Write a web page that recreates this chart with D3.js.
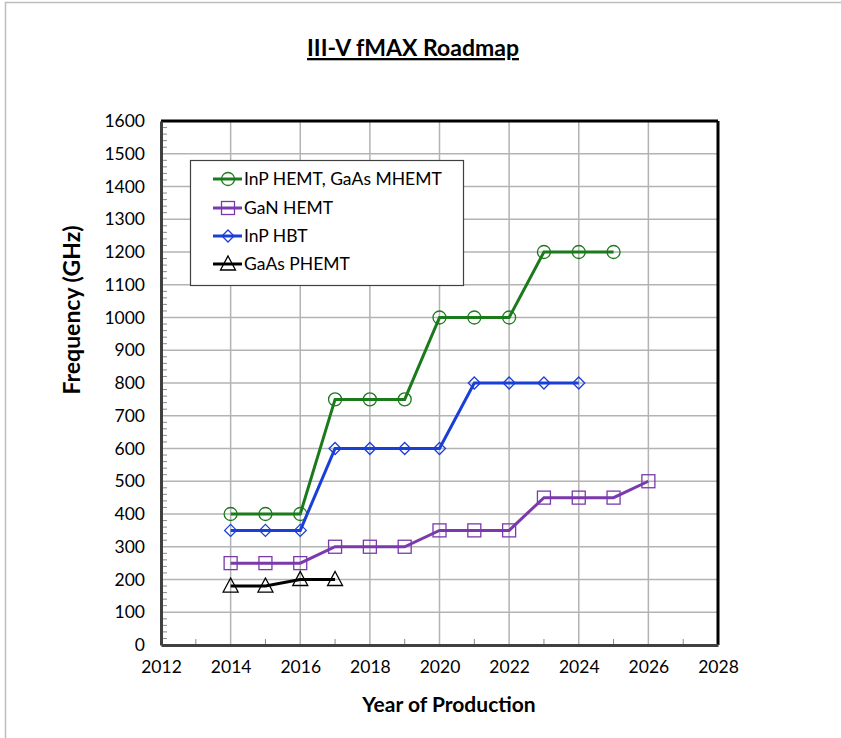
<!DOCTYPE html>
<html>
<head>
<meta charset="utf-8">
<script src="https://cdn.jsdelivr.net/npm/d3@7"></script>
<style>
  body { margin: 0; background: #fff; }
  text { font-family: Lato, "Open Sans", sans-serif; }
</style>
</head>
<body>
<div id="chart"></div>
<script>
// data
var years = [2014, 2015, 2016, 2017, 2018, 2019, 2020, 2021, 2022, 2023, 2024, 2025, 2026];
var inpHemt = [400, 400, 400, 750, 750, 750, 1000, 1000, 1000, 1200, 1200, 1200];
var ganHemt = [250, 250, 250, 300, 300, 300, 350, 350, 350, 450, 450, 450, 500];
var inpHbt = [350, 350, 350, 600, 600, 600, 600, 800, 800, 800, 800];
var gaasPhemt = [180, 180, 200, 200];
var xTicks = [2012, 2014, 2016, 2018, 2020, 2022, 2024, 2026, 2028];
var yTicks = d3.range(0, 1601, 100);

var series = [
  { name: "InP HEMT, GaAs MHEMT", values: inpHemt, color: "#1b7a1b", marker: "circle" },
  { name: "GaN HEMT", values: ganHemt, color: "#7a3aad", marker: "square" },
  { name: "InP HBT", values: inpHbt, color: "#1a3fd6", marker: "diamond" },
  { name: "GaAs PHEMT", values: gaasPhemt, color: "#000000", marker: "triangle" }
];

var W = 841, H = 738;
var margin = { top: 121, right: 123, bottom: 93, left: 161 },
  width = W - margin.left - margin.right,
  height = H - margin.top - margin.bottom;

var svg = d3.select("#chart").append("svg")
  .attr("width", W)
  .attr("height", H);

// outer frame (only top and left visible)
svg.append("path")
  .attr("d", "M5.5,760 L5.5,2.5 L860,2.5")
  .attr("fill", "none")
  .attr("stroke", "#bdbdbd")
  .attr("stroke-width", 1.5);

// title
svg.append("text")
  .attr("x", 413)
  .attr("y", 56)
  .attr("text-anchor", "middle")
  .style("font-size", "23px")
  .style("font-weight", "bold")
  .style("text-decoration", "underline")
  .text("III-V fMAX Roadmap");

var g = svg.append("g")
  .attr("transform", "translate(" + margin.left + "," + margin.top + ")");

var x = d3.scaleLinear().domain([2012, 2028]).range([0, width]);
var y = d3.scaleLinear().domain([0, 1600]).range([height, 0]);

// grid
g.append("g").selectAll("line")
  .data(yTicks.filter(function(d) { return d > 0 && d < 1600; }))
  .enter().append("line")
  .attr("x1", 0).attr("x2", width)
  .attr("y1", function(d) { return y(d); })
  .attr("y2", function(d) { return y(d); })
  .attr("stroke", "#b3b3b3").attr("stroke-width", 1.5);

g.append("g").selectAll("line")
  .data(xTicks.filter(function(d) { return d > 2012 && d < 2028; }))
  .enter().append("line")
  .attr("y1", 0).attr("y2", height)
  .attr("x1", function(d) { return x(d); })
  .attr("x2", function(d) { return x(d); })
  .attr("stroke", "#b3b3b3").attr("stroke-width", 1.5);

// minor ticks, inside
g.append("g").selectAll("line")
  .data(d3.range(0, 1600, 20).filter(function(d) { return d % 100 != 0; }))
  .enter().append("line")
  .attr("x1", 0).attr("x2", 6)
  .attr("y1", function(d) { return y(d); })
  .attr("y2", function(d) { return y(d); })
  .attr("stroke", "#8a8a8a").attr("stroke-width", 1);

g.append("g").selectAll("line")
  .data(d3.range(2013, 2028, 2))
  .enter().append("line")
  .attr("y1", height).attr("y2", height - 6)
  .attr("x1", function(d) { return x(d); })
  .attr("x2", function(d) { return x(d); })
  .attr("stroke", "#8a8a8a").attr("stroke-width", 1);

// frame: top and right black, axes dark grey
g.append("line").attr("x1", 0).attr("x2", width).attr("y1", 0).attr("y2", 0)
  .attr("stroke", "#000").attr("stroke-width", 3);
g.append("line").attr("x1", width).attr("x2", width).attr("y1", 0).attr("y2", height)
  .attr("stroke", "#000").attr("stroke-width", 3);

// axes
var xAxis = g.append("g")
  .attr("transform", "translate(0," + height + ")")
  .call(d3.axisBottom(x).tickValues(xTicks).tickFormat(d3.format("d")).tickSize(0).tickPadding(16));
var yAxis = g.append("g")
  .call(d3.axisLeft(y).tickValues(yTicks).tickFormat(d3.format("d")).tickSize(0).tickPadding(16));

[xAxis, yAxis].forEach(function(a) {
  a.select(".domain").attr("stroke", "#404040").attr("stroke-width", 3);
  a.selectAll("text").style("font-size", "17.5px").style("font-family", "Lato, sans-serif").attr("fill", "#000");
});

// axis labels
svg.append("text")
  .attr("x", 449)
  .attr("y", 712)
  .attr("text-anchor", "middle")
  .style("font-size", "21px")
  .style("font-weight", "bold")
  .text("Year of Production");

svg.append("text")
  .attr("transform", "translate(80,310) rotate(-90)")
  .attr("text-anchor", "middle")
  .style("font-size", "23px")
  .style("font-weight", "bold")
  .text("Frequency (GHz)");

// marker drawing
function drawMarker(sel, type, color) {
  if (type == "circle") {
    sel.append("circle").attr("r", 6.5);
  } else if (type == "square") {
    sel.append("rect").attr("x", -6.5).attr("y", -6.5).attr("width", 13).attr("height", 13);
  } else if (type == "diamond") {
    sel.append("path").attr("d", "M0,-6L6,0L0,6L-6,0Z");
  } else {
    sel.append("path").attr("d", "M0,-8L7.5,6L-7.5,6Z");
  }
  sel.selectAll("*")
    .attr("fill", "none")
    .attr("stroke", color)
    .attr("stroke-width", 1.3);
}

var line = d3.line()
  .x(function(d) { return x(d.year); })
  .y(function(d) { return y(d.value); });

series.forEach(function(s) {
  var pts = s.values.map(function(v, i) { return { year: years[i], value: v }; });
  g.append("path")
    .datum(pts)
    .attr("d", line)
    .attr("fill", "none")
    .attr("stroke", s.color)
    .attr("stroke-width", 3);
  g.selectAll(null)
    .data(pts)
    .enter().append("g")
    .attr("transform", function(d) { return "translate(" + x(d.year) + "," + y(d.value) + ")"; })
    .each(function() { drawMarker(d3.select(this), s.marker, s.color); });
});

// legend
var legend = svg.append("g").attr("transform", "translate(190,160)");
legend.append("rect")
  .attr("x", 0.5).attr("y", 0.5)
  .attr("width", 273).attr("height", 125)
  .attr("fill", "#fff")
  .attr("stroke", "#404040")
  .attr("stroke-width", 1.2);

var legendY = [19, 48, 76, 104];
series.forEach(function(s, i) {
  var item = legend.append("g").attr("transform", "translate(0," + legendY[i] + ")");
  item.append("line")
    .attr("x1", 23).attr("x2", 52)
    .attr("stroke", s.color).attr("stroke-width", 3);
  var m = item.append("g").attr("transform", "translate(38,0)");
  drawMarker(m, s.marker, s.color);
  item.append("text")
    .attr("x", 54)
    .attr("y", 6)
    .style("font-size", "17.5px")
    .text(s.name);
});
</script>
</body>
</html>
